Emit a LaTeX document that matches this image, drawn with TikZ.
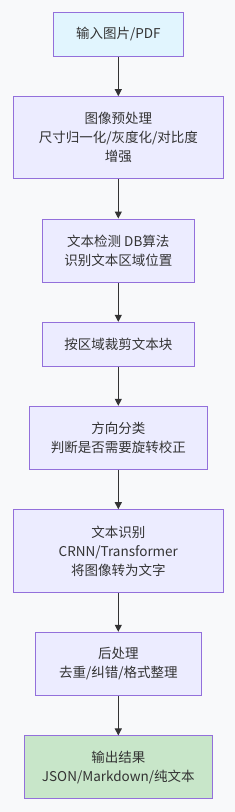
\documentclass[tikz,border=0pt]{standalone}
\usepackage{fontspec}
\setmainfont{Noto Sans CJK SC}
\usetikzlibrary{arrows.meta}
\definecolor{bg}{HTML}{F8F9FA}
\definecolor{boxfill}{HTML}{ECECFF}
\definecolor{boxline}{HTML}{9370DB}
\definecolor{startfill}{HTML}{E1F5FE}
\definecolor{endfill}{HTML}{C8E6C9}
\definecolor{txt}{HTML}{333333}
\begin{document}
\begin{tikzpicture}[x=1pt,y=-1pt,
  stepbox/.style={draw=boxline,fill=boxfill,line width=1pt,rectangle,align=center,
    text=txt,inner sep=0pt,font=\fontsize{13.5}{19}\selectfont},
  conn/.style={draw=txt,line width=1pt,-{Triangle[length=7pt,width=7pt]}}]
\fill[bg] (0,0) rectangle (235,812);
\useasboundingbox (0,0) rectangle (235,812);
\node[stepbox,fill=startfill,minimum width=129.4pt,minimum height=44pt] (b1) at (118.3,34.3) {输入图片/PDF};
\node[stepbox,minimum width=210pt,minimum height=82.3pt] (b2) at (118.3,137.8) {图像预处理\\尺寸归一化/灰度化/对比度\\增强};
\node[stepbox,minimum width=152.3pt,minimum height=63.3pt] (b3) at (118.3,250.7) {文本检测 DB算法\\识别文本区域位置};
\node[stepbox,minimum width=152.3pt,minimum height=43.7pt] (b4) at (118.3,344.2) {按区域裁剪文本块};
\node[stepbox,minimum width=178pt,minimum height=63pt] (b5) at (118.3,437.8) {方向分类\\判断是否需要旋转校正};
\node[stepbox,minimum width=210pt,minimum height=82.6pt] (b6) at (118.3,551) {文本识别\\CRNN/Transformer\\将图像转为文字};
\node[stepbox,minimum width=165.7pt,minimum height=63.4pt] (b7) at (118.3,664) {后处理\\去重/纠错/格式整理};
\node[stepbox,fill=endfill,minimum width=188.3pt,minimum height=62.7pt] (b8) at (118.3,767.3) {输出结果\\JSON/Markdown/纯文本};
\draw[conn] (b1) -- (b2);
\draw[conn] (b2) -- (b3);
\draw[conn] (b3) -- (b4);
\draw[conn] (b4) -- (b5);
\draw[conn] (b5) -- (b6);
\draw[conn] (b6) -- (b7);
\draw[conn] (b7) -- (b8);
\end{tikzpicture}
\end{document}
